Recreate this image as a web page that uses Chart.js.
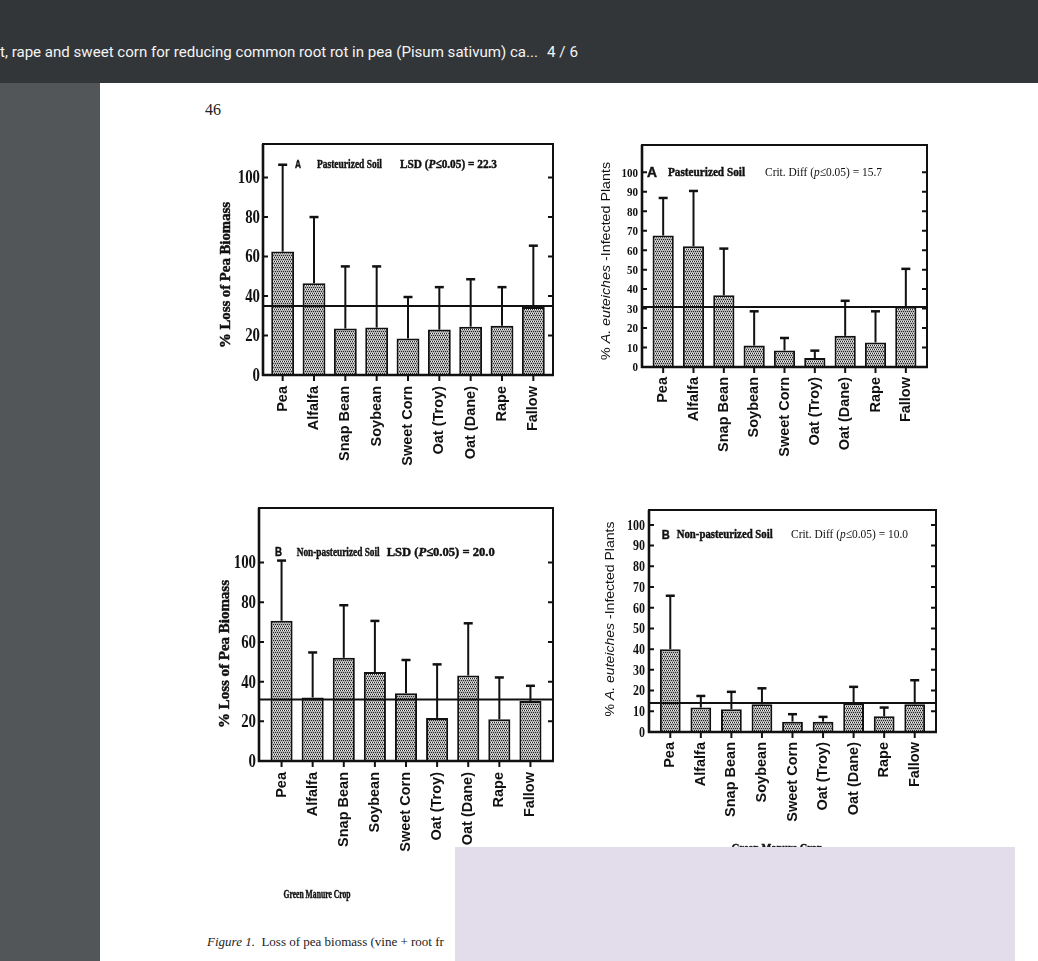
<!DOCTYPE html>
<html><head><meta charset="utf-8">
<script src="https://cdn.jsdelivr.net/npm/chart.js@4.4.1/dist/chart.umd.min.js"></script>
<style>
html,body{margin:0;padding:0;background:#fff;}
body{width:1038px;height:961px;position:relative;overflow:hidden;}
#hdr{position:absolute;left:0;top:0;width:1038px;height:83px;background:#323639;}
#side{position:absolute;left:0;top:83px;width:100px;height:878px;background:#525659;}
.ht{position:absolute;top:43px;color:#f4f4f4;font:400 15px Roboto,sans-serif;white-space:nowrap;transform-origin:0 50%;line-height:18px;}
canvas{position:absolute;}
#pgnum{position:absolute;left:205px;top:101px;font:16px "Liberation Serif",serif;color:#222;}
#cap{position:absolute;left:207px;top:934px;font:13px "Liberation Serif",serif;color:#222;white-space:nowrap;}
#veil{position:absolute;left:455px;top:847px;width:560px;height:114px;background:#e3dcea;}
</style></head>
<body>
<div id="hdr"><span class="ht" id="ht1" style="left:0">t, rape and sweet corn for reducing common root rot in pea (Pisum sativum) ca...</span><span class="ht" id="ht2" style="left:547px">4 / 6</span></div>
<div id="side"></div>
<div id="pgnum">46</div>
<canvas id="cA1" width="370" height="355" style="left:200px;top:125px;width:370px;height:355px"></canvas>
<canvas id="cA2" width="400" height="355" style="left:560px;top:125px;width:400px;height:355px"></canvas>
<canvas id="cB1" width="370" height="420" style="left:200px;top:490px;width:370px;height:420px"></canvas>
<canvas id="cB2" width="420" height="380" style="left:560px;top:490px;width:420px;height:380px"></canvas>
<div id="cap"><i>Figure 1.</i>&nbsp; Loss of pea biomass (vine + root fr</div>
<div id="veil"></div>
<script>
// ---------- data ----------
const categories = ['Pea','Alfalfa','Snap Bean','Soybean','Sweet Corn','Oat (Troy)','Oat (Dane)','Rape','Fallow'];
const lossTicks = [0,20,40,60,80,100];
const pctTicks = [0,10,20,30,40,50,60,70,80,90,100];

// A: pasteurized soil, % loss of pea biomass
const lossPasteurized   = [62.5, 46.5, 23.5, 24, 18.5, 23, 24.5, 25, 34.5];
const lossPasteurizedSD = [44, 33.5, 31.5, 31, 21, 21.5, 24, 19.5, 31];
const lsdPasteurized = 35;
// A: pasteurized soil, % infected plants
const infPasteurized   = [67.5, 62, 36.8, 11, 8.5, 4.6, 16, 12.6, 31];
const infPasteurizedSD = [19.3, 28.4, 24, 17.6, 6.4, 3.8, 18, 16, 19.4];
const critPasteurized = 30.8;
// B: non-pasteurized soil, % loss of pea biomass
const lossNonPast   = [70.7, 32, 52, 44.8, 34.2, 21.7, 43.1, 21, 30.3];
const lossNonPastSD = [30.3, 22.7, 26.5, 25.8, 16.7, 27, 26.3, 21.1, 7.6];
const lsdNonPast = 31;
// B: non-pasteurized soil, % infected plants
const infNonPast   = [40, 11.8, 11, 13.4, 5, 5, 14, 7.6, 13.4];
const infNonPastSD = [25.8, 5.6, 8.4, 7.7, 3.6, 2.3, 7.8, 4.2, 11.6];
const critNonPast = 14;

// ---------- header text fitting ----------
function fitEl(id, w){ const e=document.getElementById(id); const r=e.getBoundingClientRect().width; e.style.transform='scaleX('+(w/r)+')'; }
fitEl('ht1', 538); fitEl('ht2', 31);

// ---------- helpers ----------
function makePattern(){
  const c=document.createElement('canvas'); c.width=4; c.height=4;
  const g=c.getContext('2d');
  g.fillStyle='#b0b0b0'; g.fillRect(0,0,4,4);
  g.fillStyle='#262626';
  [[0,0],[2,0],[1,2],[3,2]].forEach(p=>g.fillRect(p[0],p[1],1,1));
  g.fillStyle='#f2f2f2';
  [[1,0],[3,0]].forEach(p=>g.fillRect(p[0],p[1],1,1));
  return g.createPattern(c,'repeat');
}
const pattern = makePattern();

function drawSegs(ctx, segs, x, y, target, center, rot){
  ctx.save();
  const widths = segs.map(s=>{ctx.font=s[1]; return ctx.measureText(s[0]).width;});
  const total = widths.reduce((a,b)=>a+b,0);
  const sx = target ? target/total : 1;
  ctx.translate(x,y);
  if(rot) ctx.rotate(rot);
  ctx.scale(sx,1);
  let cx = center ? -total/2 : 0;
  ctx.textBaseline='middle'; ctx.textAlign='left'; ctx.fillStyle='#111'; ctx.strokeStyle='#111'; ctx.lineWidth=0.45;
  segs.forEach((s,i)=>{
    ctx.font=s[1]; ctx.fillText(s[0],cx,0);
    if(s[1].indexOf('bold')>=0) ctx.strokeText(s[0],cx,0);
    cx+=widths[i];
  });
  ctx.restore();
}

const SB = 'bold 13px "Liberation Serif"';
const SBI = 'italic bold 13px "Liberation Serif"';
const SR = '13px "Liberation Serif"';
const SRI = 'italic 13px "Liberation Serif"';
const AS = '13px "Liberation Sans"';
const ASI = 'italic 13px "Liberation Sans"';

function makeDeco(d){
  return {
    id:'deco',
    afterDatasetsDraw(chart){
      const ctx=chart.ctx, a=chart.chartArea, ys=chart.scales.y;
      const L=a.left-d.ex, R=a.right+d.ex, T=a.top, B=a.bottom;
      const meta=chart.getDatasetMeta(0);
      ctx.save();
      ctx.strokeStyle='#111'; ctx.fillStyle='#111'; ctx.lineCap='butt';
      // error bars
      ctx.lineWidth=2;
      meta.data.forEach((el,i)=>{
        const y0=ys.getPixelForValue(d.values[i]);
        const y1=ys.getPixelForValue(d.values[i]+d.sd[i]);
        ctx.beginPath(); ctx.moveTo(el.x,y0); ctx.lineTo(el.x,y1); ctx.stroke();
        ctx.lineWidth=2.5; ctx.beginPath(); ctx.moveTo(el.x-4.5,y1); ctx.lineTo(el.x+4.5,y1); ctx.stroke();
        ctx.lineWidth=2;
      });
      // reference (LSD / critical difference) line
      const ly=ys.getPixelForValue(d.line);
      ctx.beginPath(); ctx.moveTo(L,ly); ctx.lineTo(R,ly); ctx.stroke();
      // frame
      ctx.lineWidth=2; ctx.strokeRect(L,T,R-L,B-T);
      ctx.lineWidth=2.6; ctx.beginPath(); ctx.moveTo(L-1,B); ctx.lineTo(R+1,B);
      ctx.moveTo(L,B+1); ctx.lineTo(L,T); ctx.stroke();
      // y ticks + labels
      ctx.lineWidth=2;
      ys.ticks.forEach(t=>{
        if(t.value>100) return;
        const y=ys.getPixelForValue(t.value);
        ctx.beginPath(); ctx.moveTo(L,y); ctx.lineTo(L+5,y);
        if(t.value>0){ ctx.moveTo(R,y); ctx.lineTo(R-5,y); }
        ctx.stroke();
        ctx.save(); ctx.translate(L-d.labPad,y+1); ctx.scale(d.labSx,1);
        ctx.font=d.labFont; ctx.textAlign='right'; ctx.textBaseline='middle';
        ctx.fillText(String(t.value),0,0); ctx.restore();
      });
      // x ticks
      meta.data.forEach(el=>{ ctx.beginPath(); ctx.moveTo(el.x,B); ctx.lineTo(el.x,B+6); ctx.stroke(); });
      ctx.restore();
      // panel title
      d.title.forEach(p=>drawSegs(ctx,p.segs,p.x,d.titleY,p.w,false,0));
      // y axis title
      drawSegs(ctx,d.yTitle.segs,d.yTitle.cx,d.yTitle.cy,d.yTitle.L,true,-Math.PI/2);
      // x axis title
      if(d.xTitle) drawSegs(ctx,d.xTitle.segs,d.xTitle.cx,d.xTitle.cy,d.xTitle.w,true,0);
    }
  };
}

function makeChart(id, values, sd, line, ticks, g, d){
  d.values=values; d.sd=sd; d.line=line;
  return new Chart(document.getElementById(id), {
    type:'bar',
    data:{labels:categories, datasets:[{data:values, backgroundColor:pattern, borderColor:'#111', borderWidth:2, borderSkipped:'start', barPercentage:g.bp, categoryPercentage:1}]},
    options:{
      responsive:false, animation:false, devicePixelRatio:1,
      layout:{padding:{top:g.pt, right:g.pr, left:0, bottom:0}},
      plugins:{legend:{display:false}, tooltip:{enabled:false}, title:{display:false}},
      scales:{
        x:{type:'category', offset:true, grid:{display:false, drawTicks:false, tickLength:0}, border:{display:false},
           ticks:{autoSkip:false, maxRotation:90, minRotation:90, padding:g.xpad, color:'#111', font:{family:'Liberation Sans', weight:'bold', size:14.5}},
           afterFit:s=>{s.height=g.H;}},
        y:{min:0, max:g.max, grid:{display:false, drawTicks:false}, border:{display:false},
           ticks:{display:false},
           afterBuildTicks:s=>{s.ticks=ticks.map(v=>({value:v}));},
           afterFit:s=>{s.width=g.W;}}
      }
    },
    plugins:[makeDeco(d)]
  });
}

const PCT_TITLE = [['% ',AS],['A. euteiches',ASI],[' -Infected Plants',AS]];

makeChart('cA1', lossPasteurized, lossPasteurizedSD, lsdPasteurized, lossTicks,
  {bp:0.73, pt:19, pr:21, W:67, H:105, max:117, xpad:11},
  {ex:4, labPad:3, labSx:0.78, labFont:'bold 19px "Liberation Serif"', titleY:40,
   title:[{x:95,w:6,segs:[['A','bold 11px "Liberation Sans"']]},
          {x:117,w:65,segs:[['Pasteurized Soil',SB]]},
          {x:200,w:97,segs:[['LSD (',SB],['P',SBI],['≤0.05) = 22.3',SB]]}],
   yTitle:{cx:26.7, cy:150, L:146, segs:[['% Loss of Pea Biomass','bold 14px "Liberation Serif"']]}});

makeChart('cA2', infPasteurized, infPasteurizedSD, critPasteurized, pctTicks,
  {bp:0.70, pt:20, pr:39, W:88, H:113, max:114, xpad:10},
  {ex:6, labPad:4, labSx:0.85, labFont:'bold 13px "Liberation Serif"', titleY:48,
   title:[{x:87,w:10,segs:[['A','bold 15px "Liberation Sans"']]},
          {x:108,w:77,segs:[['Pasteurized Soil',SB]]},
          {x:205,w:117,segs:[['Crit. Diff (',SR],['p',SRI],['≤0.05) = 15.7',SR]]}],
   yTitle:{cx:46.7, cy:136, L:198, segs:PCT_TITLE}});

makeChart('cB1', lossNonPast, lossNonPastSD, lsdNonPast, lossTicks,
  {bp:0.71, pt:18, pr:24, W:66, H:149, max:127.5, xpad:11},
  {ex:7, labPad:3, labSx:0.78, labFont:'bold 19px "Liberation Serif"', titleY:63,
   title:[{x:75,w:7,segs:[['B','bold 12px "Liberation Sans"']]},
          {x:96.7,w:83,segs:[['Non-pasteurized Soil',SB]]},
          {x:186.7,w:108,segs:[['LSD (',SB],['P',SBI],['≤0.05) = 20.0',SB]]}],
   yTitle:{cx:25, cy:164, L:148, segs:[['% Loss of Pea Biomass','bold 14px "Liberation Serif"']]},
   xTitle:{cx:117, cy:405, w:67, segs:[['Green Manure Crop',SB]]}});

makeChart('cB2', infNonPast, infNonPastSD, critNonPast, pctTicks,
  {bp:0.68, pt:20, pr:50, W:95, H:138, max:107.2, xpad:10},
  {ex:6, labPad:4, labSx:0.8, labFont:'bold 15px "Liberation Serif"', titleY:45,
   title:[{x:101.7,w:8,segs:[['B','bold 13px "Liberation Sans"']]},
          {x:116.7,w:96,segs:[['Non-pasteurized Soil',SB]]},
          {x:231,w:117,segs:[['Crit. Diff (',SR],['p',SRI],['≤0.05) = 10.0',SR]]}],
   yTitle:{cx:50, cy:129, L:195, segs:PCT_TITLE},
   xTitle:{cx:217, cy:359, w:91, segs:[['Green Manure Crop',SB]]}});
</script>
</body></html>
